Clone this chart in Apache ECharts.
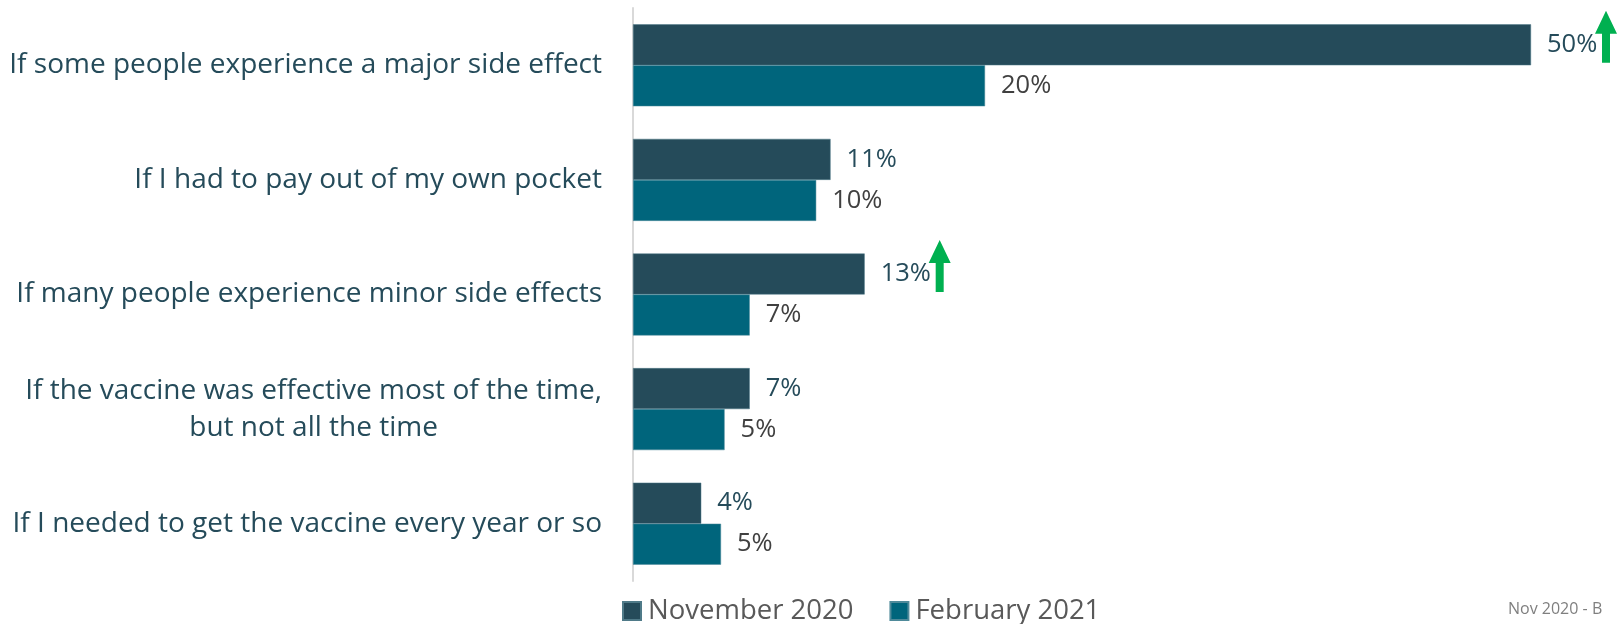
<!DOCTYPE html>
<html>
<head>
    <meta charset="utf-8">
    <script src="https://cdn.jsdelivr.net/npm/echarts@6/dist/echarts.min.js"></script>
    <style>
        body { margin: 0; background: #fff; }
    </style>
</head>
<body>
    <div id="main" style="width: 1618px;height:624px;"></div>
    <script type="text/javascript">
        var categories = [
            'If some people experience a major side effect',
            'If I had to pay out of my own pocket',
            'If many people experience minor side effects',
            'If the vaccine was effective most of the time,\nbut not all the time',
            'If I needed to get the vaccine every year or so'
        ];
        var nov2020 = [50, 11, 12.9, 6.5, 3.8];
        var feb2021 = [19.6, 10.2, 6.5, 5.1, 4.9];
        var upArrow = [true, false, true, false, false];

        var FONT = '"Open Sans", sans-serif';
        var DARK = '#254B5A';
        var TEAL = '#00657C';
        var CAT_SIZE = 28;

        // measure a text line so multi-line labels can be centred inside their block
        var ctx = document.createElement('canvas').getContext('2d');
        ctx.font = CAT_SIZE + 'px "Open Sans"';
        function catLabel(v) {
            var lines = v.split('\n');
            if (lines.length < 2) return v;
            var w = 0;
            lines.forEach(function (l) { w = Math.max(w, ctx.measureText(l).width); });
            catRich.c.width = Math.ceil(w);
            return lines.map(function (l) { return '{c|' + l + '}'; }).join('\n');
        }
        var catRich = { c: { align: 'center', fontSize: CAT_SIZE, color: DARK, fontFamily: FONT, lineHeight: 37 } };

        var arrowPath = 'path://M11,0 L22,23 L15,23 L15,52 L7,52 L7,23 L0,23 Z';
        var arrows = [];
        for (var i = 0; i < categories.length; i++) {
            if (upArrow[i]) arrows.push({ coord: [nov2020[i], i] });
        }

        var myChart = echarts.init(document.getElementById('main'));
        var option = {
            animation: false,
            textStyle: { fontFamily: FONT },
            grid: { left: 633, right: 87, top: 8, bottom: 43 },
            legend: {
                left: 617,
                top: 592,
                itemWidth: 18,
                itemHeight: 18,
                itemGap: 36,
                icon: 'rect',
                textStyle: { fontSize: 27.5, color: '#595959', fontFamily: FONT, padding: [0, 0, 0, 2] },
                data: ['November 2020', 'February 2021']
            },
            xAxis: { type: 'value', min: 0, max: 50, show: false },
            yAxis: {
                type: 'category',
                inverse: true,
                data: categories,
                axisLine: { lineStyle: { color: '#d9d9d9', width: 2 } },
                axisTick: { show: false },
                axisLabel: {
                    margin: 31,
                    fontSize: CAT_SIZE,
                    color: DARK,
                    lineHeight: 37,
                    fontFamily: FONT,
                    formatter: catLabel,
                    rich: catRich
                }
            },
            series: [
                {
                    name: 'November 2020',
                    type: 'bar',
                    data: nov2020,
                    barWidth: 41,
                    barGap: 0,
                    itemStyle: { color: DARK, borderColor: '#4f7a88', borderWidth: 0.5 },
                    label: {
                        show: true, position: 'right', distance: 16,
                        fontSize: 25.5, color: DARK, fontFamily: FONT,
                        formatter: function (p) { return Math.round(p.value) + '%'; }
                    },
                    markPoint: {
                        symbol: arrowPath,
                        symbolSize: [22, 52],
                        symbolOffset: [75, -8],
                        itemStyle: { color: '#00B050' },
                        label: { show: false },
                        data: arrows
                    }
                },
                {
                    name: 'February 2021',
                    type: 'bar',
                    data: feb2021,
                    barWidth: 41,
                    itemStyle: { color: TEAL, borderColor: '#4f8a9a', borderWidth: 0.5 },
                    label: {
                        show: true, position: 'right', distance: 16,
                        fontSize: 25.5, color: '#404040', fontFamily: FONT,
                        formatter: function (p) { return Math.round(p.value) + '%'; }
                    }
                }
            ],
            graphic: [
                {
                    type: 'text',
                    left: 1508,
                    top: 601,
                    style: { text: 'Nov 2020 - B', fontSize: 16, fill: '#7f7f7f', fontFamily: FONT }
                }
            ]
        };
        myChart.setOption(option);
    </script>
</body>
</html>
